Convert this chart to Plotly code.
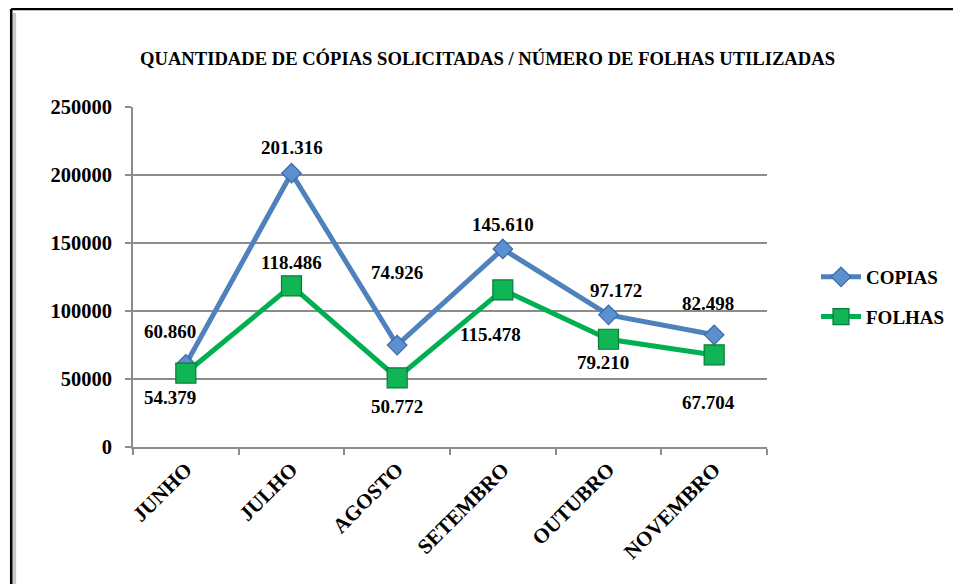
import plotly.graph_objects as go

meses = ["JUNHO", "JULHO", "AGOSTO", "SETEMBRO", "OUTUBRO", "NOVEMBRO"]
copias = [60860, 201316, 74926, 145610, 97172, 82498]
folhas = [54379, 118486, 50772, 115478, 79210, 67704]
y_ticks = [0, 50000, 100000, 150000, 200000, 250000]

# label offsets (pixels) for data labels
copias_shift = [(-16, 33), (0, 26), (0, 73), (0, 24), (7, 24), (-6, 31)]
folhas_shift = [(-16, -24), (0, 23), (0, -29), (-12, -45), (-6, -23), (-6, -48)]

def fmt(v):
    return f"{v:,}".replace(",", ".")

FONT = "Liberation Serif, Times New Roman, serif"
BLUE = "#4F81BD"
GREEN = "#00B050"

# page body has an 8px margin; work in window pixels and convert
OFF = 8
PL, PR, PT, PB = 133, 768, 107, 447  # plot area in window pixels
W, H = 961 - OFF, 584 - OFF

def px(xp):
    return (xp - PL) / (PR - PL)

def py(yp):
    return (PB - yp) / (PB - PT)

fig = go.Figure()
fig.add_trace(go.Scatter(
    x=meses, y=copias, name="COPIAS", mode="lines+markers",
    legendgroup="a",
    line=dict(color=BLUE, width=5),
    marker=dict(symbol="diamond", size=15, color="#5b8fd0",
                line=dict(color="#3a6aa5", width=1.2)),
))
fig.add_trace(go.Scatter(
    x=meses, y=folhas, name="FOLHAS", mode="lines+markers",
    legendgroup="b",
    line=dict(color=GREEN, width=5),
    marker=dict(symbol="square", size=20, color="#10b554",
                line=dict(color="#0a7a3a", width=1.2)),
))

for m, v, (dx, dy) in zip(meses, copias, copias_shift):
    fig.add_annotation(x=m, y=v, text=fmt(v), showarrow=False,
                       xshift=dx, yshift=dy,
                       font=dict(family=FONT, size=19, color="black", weight="bold"))
for m, v, (dx, dy) in zip(meses, folhas, folhas_shift):
    fig.add_annotation(x=m, y=v, text=fmt(v), showarrow=False,
                       xshift=dx, yshift=dy,
                       font=dict(family=FONT, size=19, color="black", weight="bold"))

fig.add_annotation(
    xref="paper", yref="paper", x=px(488), y=py(58),
    text="QUANTIDADE DE CÓPIAS SOLICITADAS / NÚMERO DE FOLHAS UTILIZADAS",
    showarrow=False, font=dict(family=FONT, size=18.6, color="black", weight="bold"),
    xanchor="center", yanchor="middle")

# chart frame (left and top border with shadow)
L, T = 11, 9
fig.add_shape(type="line", xref="paper", yref="paper",
              x0=px(L + 3), x1=px(L + 3), y0=py(T + 4), y1=py(600),
              line=dict(color="#c8c8c8", width=4))
fig.add_shape(type="line", xref="paper", yref="paper",
              x0=px(L), x1=px(L), y0=py(T), y1=py(600),
              line=dict(color="black", width=2.5))
fig.add_shape(type="line", xref="paper", yref="paper",
              x0=px(L), x1=px(980), y0=py(T), y1=py(T),
              line=dict(color="black", width=2.5))

fig.update_layout(
    width=W, height=H,
    margin=dict(l=PL - OFF, r=W - (PR - OFF), t=PT - OFF, b=H - (PB - OFF)),
    paper_bgcolor="white", plot_bgcolor="white",
    showlegend=True,
    legend=dict(x=px(816), y=py(297), xanchor="left", yanchor="middle",
                font=dict(family=FONT, size=19, color="black", weight="bold"),
                tracegroupgap=12, itemwidth=40, bgcolor="rgba(0,0,0,0)"),
    xaxis=dict(
        range=[-0.5, 5.5], autorange=False,
        showline=True, linecolor="#8c8c8c", linewidth=2,
        ticks="outside", ticklen=6, tickcolor="#8c8c8c", tickwidth=2,
        tickson="boundaries", showgrid=False, tickangle=-45,
        tickfont=dict(family=FONT, size=21, color="black", weight="bold"),
    ),
    yaxis=dict(
        range=[0, 250000], autorange=False, tickvals=y_ticks,
        ticktext=[str(v) for v in y_ticks],
        showline=True, linecolor="#8c8c8c", linewidth=2,
        ticks="outside", ticklen=6, tickcolor="#8c8c8c", tickwidth=2,
        showgrid=True, gridcolor="#8c8c8c", gridwidth=2,
        zeroline=False,
        ticklabelstandoff=9,
        tickfont=dict(family=FONT, size=20.5, color="black", weight="bold"),
    ),
)

fig.write_html("out.html")
